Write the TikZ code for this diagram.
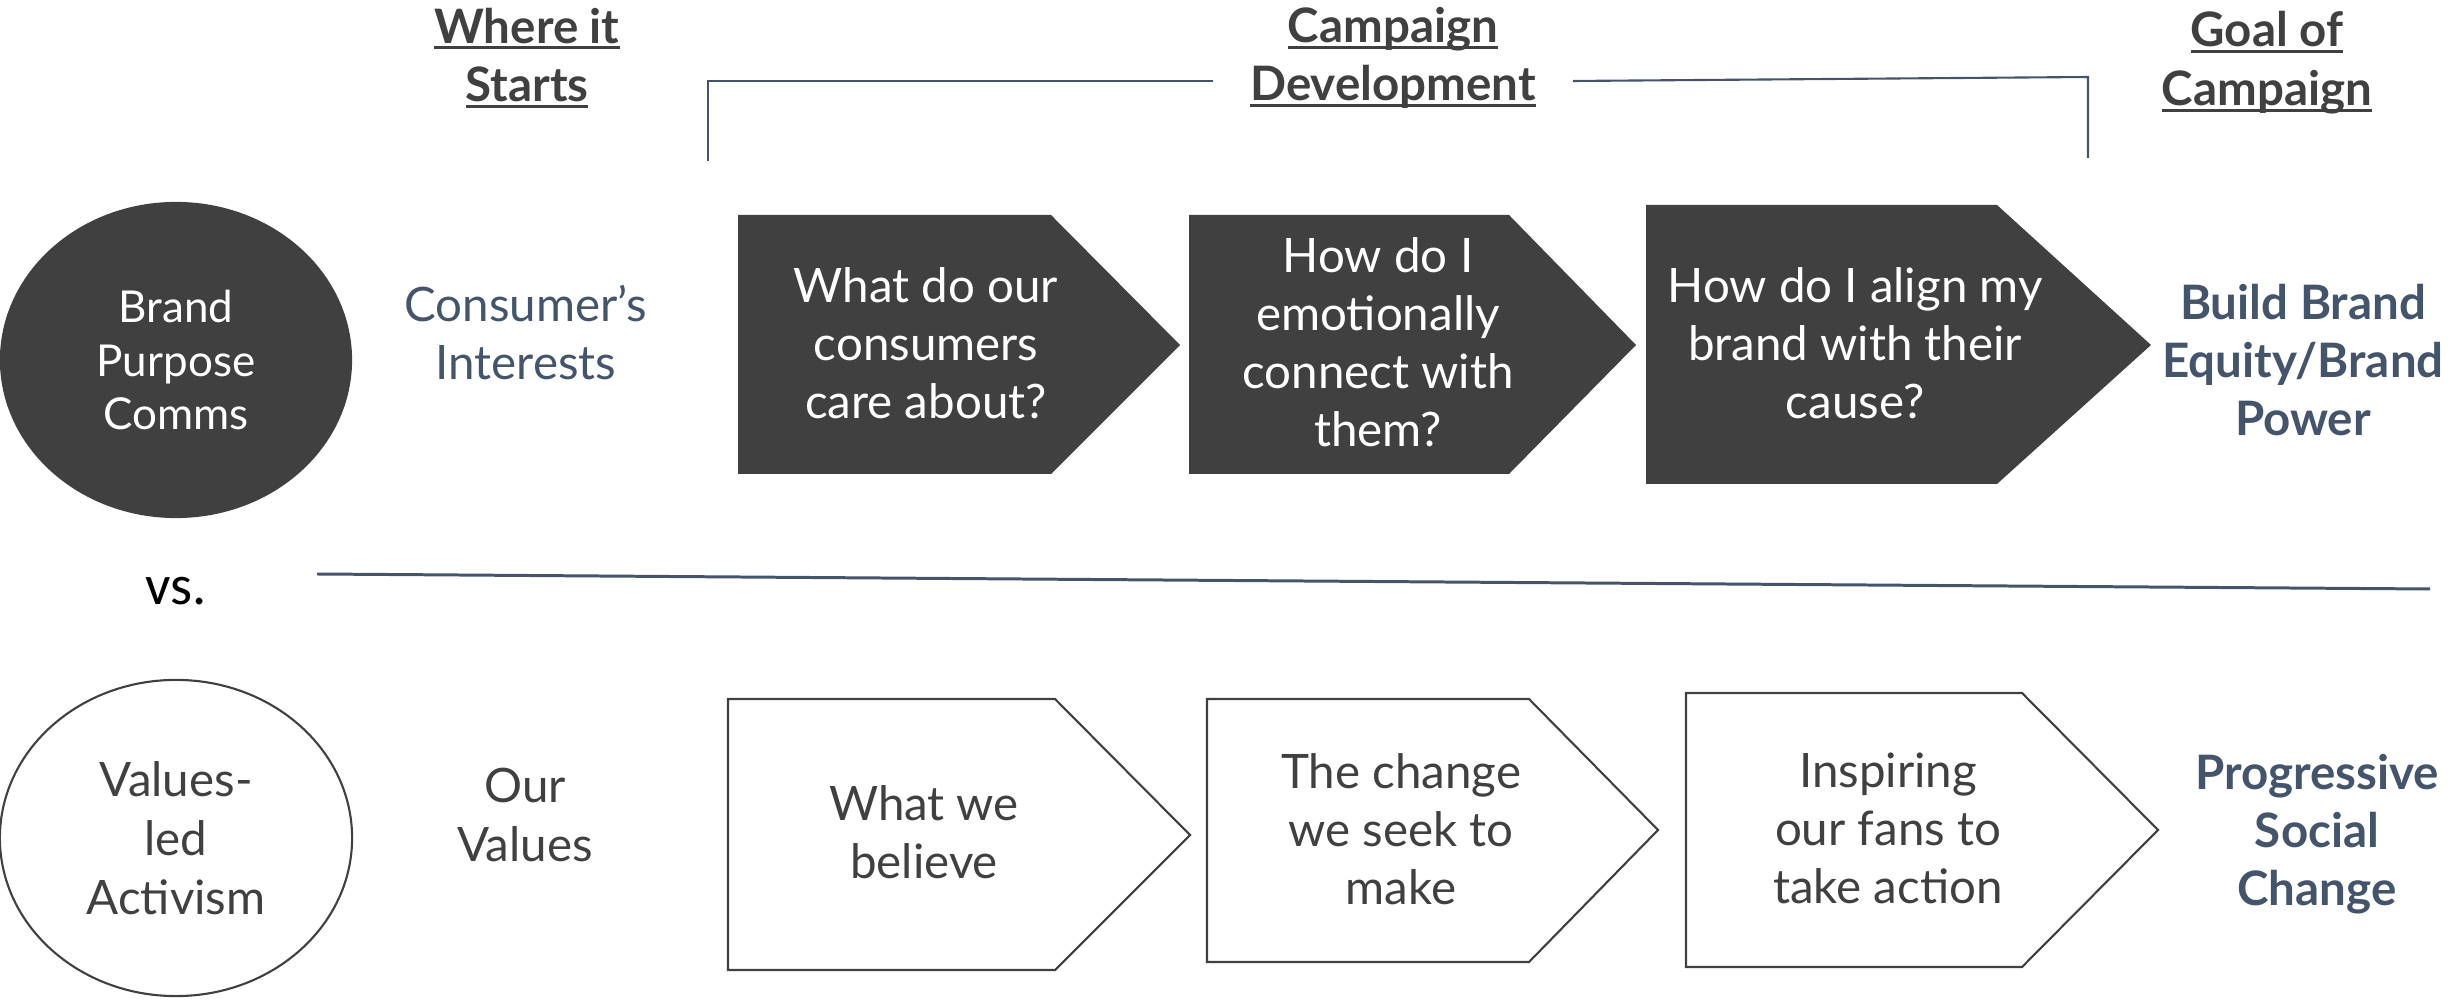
\documentclass[tikz,border=0pt]{standalone}
\usepackage{fontspec}
\setmainfont{Lato}
\newfontfamily\vsfont{Carlito}
\usepackage{tikz}
\usetikzlibrary{shapes.geometric}
\definecolor{darkfill}{HTML}{404040}
\definecolor{slate}{HTML}{44546A}
\newcommand\hdrline[1]{\setbox0\hbox{#1}\rlap{\rule[-1.8pt]{\wd0}{0.85pt}}\box0}

\begin{document}
\begin{tikzpicture}[x=0.01cm, y=-0.01cm,
    every node/.append style={align=center, inner sep=0pt, font=\fontsize{13.5}{16.5}\selectfont},
    header/.style={text=darkfill, font=\bfseries\fontsize{13.5}{16.7}\selectfont},
    goal/.style={text=slate, font=\bfseries\fontsize{13.5}{16.5}\selectfont},
    oval/.style={ellipse, minimum width=3.52cm, minimum height=3.16cm, line width=0.6pt},
    darkshape/.style={fill=darkfill},
    openshape/.style={draw=darkfill, line width=0.6pt, fill=white},
    rule/.style={draw=slate, line width=0.6pt}]
    \useasboundingbox (0,0) rectangle (2458,1001);

    % column headers
    \node(starts)[header] at (527,58) {\hdrline{Where it}\\\hdrline{Starts}};
    \node(development)[header] at (1393,58) {\hdrline{Campaign}\\\hdrline{Development}};
    \node(goalhead)[header] at (2267,63) {\hdrline{Goal of}\\\hdrline{Campaign}};

    \coordinate (bl) at (708,161);
    \coordinate (br) at (2088,158);
    \draw[rule] (bl) |- (1213,81);
    \draw[rule] (1573,81) -- (2088,77) -- (br);

    % brand purpose row
    \node(brand)[oval, fill=darkfill, text=white, font=\fontsize{12.5}{15.1}\selectfont] at (176,360) {Brand\\Purpose\\Comms};
    \node(interests)[text=slate] at (526,333) {Consumer’s\\Interests};
    \fill[darkshape] (738,215) -- (1051,215) -- (1180,345) -- (1051,474) -- (738,474) -- cycle;
    \fill[darkshape] (1189,215) -- (1509,215) -- (1636,345) -- (1509,474) -- (1189,474) -- cycle;
    \fill[darkshape] (1646,205) -- (1997,205) -- (2151,345) -- (1997,484) -- (1646,484) -- cycle;
    \node(care)[text=white] at (926,343) {What do our\\consumers\\care about?};
    \node(connect)[text=white] at (1378,342) {How do I\\emotionally\\connect with\\them?};
    \node(align)[text=white] at (1855,343) {How do I align my\\brand with their\\cause?};
    \node(equity)[goal] at (2303,360) {Build Brand\\Equity/Brand\\Power};

    \coordinate (sepl) at (317,574);
    \coordinate (sepr) at (2430,589);
    \draw[draw=slate, line width=0.85pt] (sepl) -- (sepr);
    \node(vs)[anchor=base, font=\vsfont\fontsize{16}{19}\selectfont] at (176,605) {vs.};

    % values-led row
    \node(values)[oval, draw=darkfill, text=darkfill, font=\fontsize{13.5}{16.8}\selectfont] at (176,838) {Values-\\led\\Activism};
    \node(ourvalues)[text=darkfill] at (525,815) {Our\\Values};
    \filldraw[openshape] (728,699) -- (1055,699) -- (1190,835) -- (1055,970) -- (728,970) -- cycle;
    \filldraw[openshape] (1207,699) -- (1529,699) -- (1658,830) -- (1529,962) -- (1207,962) -- cycle;
    \filldraw[openshape] (1686,693) -- (2022,693) -- (2158,830) -- (2022,967) -- (1686,967) -- cycle;
    \node(believe)[text=darkfill] at (924,832) {What we\\believe};
    \node(change)[text=darkfill] at (1401,829) {The change\\we seek to\\make};
    \node(inspire)[text=darkfill] at (1888,828) {Inspiring\\our fans to\\take action};
    \node(social)[goal] at (2317,834) {Progressive\\Social\\Change};
\end{tikzpicture}
\end{document}
